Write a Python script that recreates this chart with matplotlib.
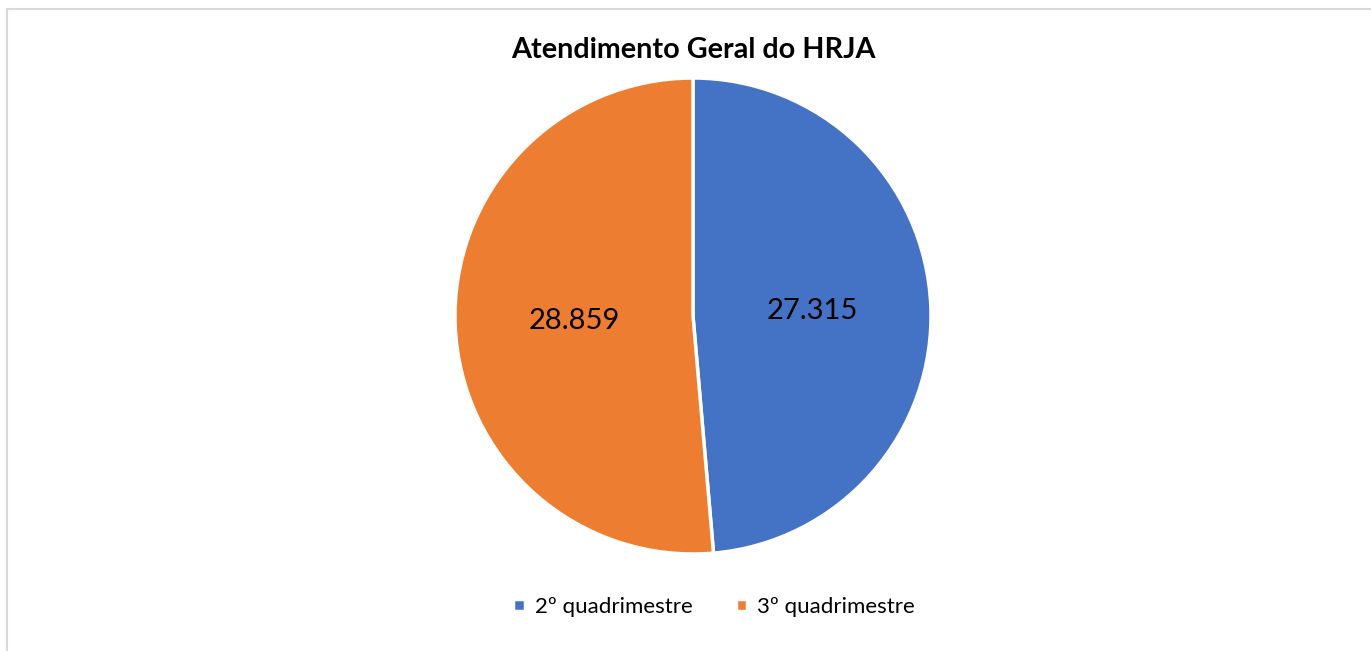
import matplotlib.pyplot as plt
from matplotlib.patches import Rectangle

categorias = ['2º quadrimestre', '3º quadrimestre']
valores = [27315, 28859]
rotulos = ['27.315', '28.859']
cores = ['#4472C4', '#ED7D31']

plt.rcParams['font.family'] = ['Lato', 'DejaVu Sans']

fig = plt.figure(figsize=(13.71, 6.51), dpi=100)

# moldura do grafico
fig.patches.append(Rectangle((7/1371, -0.01), 1.02, 1 - 9/651 + 0.01, transform=fig.transFigure,
                             fill=False, edgecolor='#D9D9D9', linewidth=1.5))

ax = fig.add_axes([(693-238)/1371, 1-(316+238)/651, 476/1371, 476/651])
wedges, texts = ax.pie(valores, colors=cores, startangle=90, counterclock=False,
                       wedgeprops=dict(edgecolor='white', linewidth=2.5),
                       labels=rotulos, labeldistance=0.5, radius=1)
for t in texts:
    t.set_fontsize(21)
    t.set_color('#000000')
    t.set_ha('center')
    t.set_va('center')
ax.set_xlim(-1, 1)
ax.set_ylim(-1, 1)
ax.set_aspect('equal')

fig.text(693/1371, 1-50/651, 'Atendimento Geral do HRJA', ha='center', va='center',
         fontsize=20.7, fontweight='bold')

fig.legend(wedges, categorias, loc='center', bbox_to_anchor=(714/1371, 1-607/651),
           ncol=2, frameon=False, fontsize=16, handlelength=0.5, handleheight=0.5,
           columnspacing=1.95, handletextpad=0.45)

fig.savefig('out.png', dpi=100, facecolor='white')
